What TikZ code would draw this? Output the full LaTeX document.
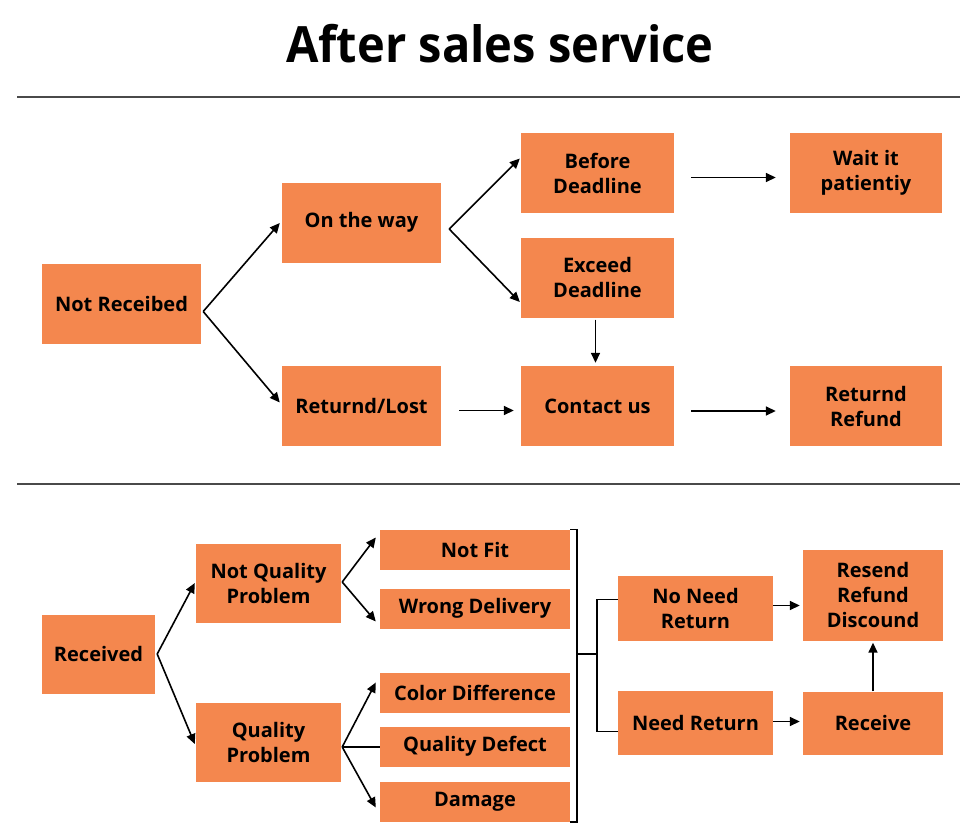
\documentclass[tikz,border=0pt]{standalone}
\usepackage{fontspec}
\setmainfont{Open Sans}
\newfontfamily\titlefont[FakeStretch=0.94]{Open Sans}
\usetikzlibrary{positioning,arrows.meta}
\definecolor{boxorange}{HTML}{F4874E}
\definecolor{rulegray}{HTML}{4A4A4A}
\tikzset{
  stepbox/.style={rectangle, fill=boxorange, inner sep=0pt, align=center, text=black,
                  font=\fontsize{20}{25}\selectfont\bfseries},
  widebox/.style={stepbox, minimum width=159pt, minimum height=80pt},
  midbox/.style={stepbox, minimum width=153pt, minimum height=80pt},
  smallbox/.style={stepbox, minimum width=190pt, minimum height=40pt},
  fwd/.style={-{Triangle[length=10pt,width=9pt]}, line width=1.6pt},
  plain/.style={line width=1.6pt},
  divider/.style={draw=rulegray, line width=1.5pt},
}

\begin{document}
\begin{tikzpicture}[x=1pt, y=-1pt]
  \useasboundingbox (0,0) rectangle (978,833);
  \node[font=\fontsize{50}{58}\selectfont\titlefont\bfseries] (title) at (500,44) {After sales service};
  \draw[divider] (17,97) -- (960,97);
  \draw[divider] (17,484) -- (960,484);

  % not received
  \node[widebox, minimum width=159pt] (nrecv) at (121.5,303.5) {Not Receibed};
  \node[widebox] (onway) at (361.5,222.5) {On the way};
  \node[widebox] (retlost) at (361.5,406) {Returnd/Lost};
  \node[midbox] (before) at (597.5,173) {Before\\Deadline};
  \node[midbox] (exceed) at (597.5,277.5) {Exceed\\Deadline};
  \node[midbox] (contact) at (597.5,406) {Contact us};
  \node[midbox, minimum width=152pt] (wait) at (866,173) {Wait it\\patientiy};
  \node[midbox, minimum width=152pt] (refund) at (866,406) {Returnd\\Refund};

  \draw[fwd] ([shift={(2,8)}]nrecv.east) -- ([shift={(-2,0.5)}]onway.west);
  \draw[fwd] ([shift={(2,8)}]nrecv.east) -- ([shift={(-2,-3.5)}]retlost.west);
  \draw[fwd] ([shift={(8,6.5)}]onway.east) -- ([shift={(-1,-14.5)}]before.west);
  \draw[fwd] ([shift={(8,6.5)}]onway.east) -- ([shift={(-1,24.5)}]exceed.west);
  \draw[fwd] ([shift={(18,4.5)}]retlost.east) -- ([shift={(-7,4.5)}]contact.west);
  \draw[fwd] ([shift={(17,4.5)}]before.east) -- ([shift={(-14,4.5)}]wait.west);
  \draw[fwd] ([shift={(17,5)}]contact.east) -- ([shift={(-14,5)}]refund.west);
  \draw[fwd] ([shift={(-2,2)}]exceed.south) -- ([shift={(-2,-3)}]contact.north);

  % received
  \node[stepbox, minimum width=113pt, minimum height=79pt] (recv) at (98.5,654) {Received};
  \node[stepbox, minimum width=145pt, minimum height=79pt] (notqual) at (268.5,583) {Not Quality\\Problem};
  \node[stepbox, minimum width=145pt, minimum height=79pt] (qual) at (268.5,742) {Quality\\Problem};
  \node[smallbox] (notfit) at (475,549.5) {Not Fit};
  \node[smallbox] (wrong) at (475,608.5) {Wrong Delivery};
  \node[smallbox] (color) at (475,692.5) {Color Difference};
  \node[smallbox] (defect) at (475,746.5) {Quality Defect};
  \node[smallbox] (damage) at (475,802) {Damage};
  \node[stepbox, minimum width=155pt, minimum height=65pt] (noneed) at (695.5,608) {No Need\\Return};
  \node[stepbox, minimum width=155pt, minimum height=64pt] (need) at (695.5,722.5) {Need Return};
  \node[stepbox, minimum width=140pt, minimum height=91pt] (resend) at (873,595) {Resend\\Refund\\Discound};
  \node[stepbox, minimum width=140pt, minimum height=63pt] (receive) at (873,723) {Receive};

  \draw[fwd] ([xshift=2pt]recv.east) -- ([xshift=-1pt]notqual.west);
  \draw[fwd] ([xshift=2pt]recv.east) -- ([shift={(-1,2)}]qual.west);
  \draw[fwd] ([shift={(1,-1)}]notqual.east) -- ([shift={(-4,-12)}]notfit.west);
  \draw[fwd] ([shift={(1,-1)}]notqual.east) -- ([shift={(-4,13)}]wrong.west);
  \draw[fwd] ([shift={(1,5)}]qual.east) -- ([shift={(-4,-10)}]color.west);
  \draw[plain] ([shift={(1,5)}]qual.east) -- ([yshift=-0.5pt]defect.west);
  \draw[fwd] ([shift={(1,5)}]qual.east) -- ([shift={(-4,5.5)}]damage.west);

  \draw[plain] (notfit.north east) -- ++(7,0) |- (damage.south east);
  \draw[plain] (577,654) -- (597,654) coordinate (fork);
  \draw[plain] ([yshift=8.5pt]noneed.west) -| (fork) |- ([yshift=-9pt]need.west);

  \draw[fwd] ([yshift=2.5pt]noneed.east) -- ([shift={(-3,10.5)}]resend.west);
  \draw[fwd] ([yshift=1pt]need.east) -- ([shift={(-3,-1.5)}]receive.west);
  \draw[fwd] (receive.north) -- ([yshift=-2pt]resend.south);
\end{tikzpicture}
\end{document}
